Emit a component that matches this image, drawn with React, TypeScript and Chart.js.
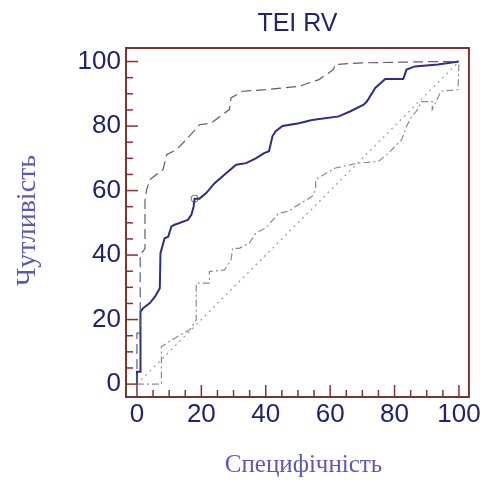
import React, { useEffect, useRef } from "react";
import { Chart, registerables } from "chart.js";

Chart.register(...registerables);

// Axis tick labels (both axes share the same scale 0..100)
const tickValues = [0, 20, 40, 60, 80, 100];
const minorStep = 5;

// Texts
const chartTitle = "TEI RV";
const xTitle = "Специфічність";
const yTitle = "Чутливість";

// ROC curve: 100 - specificity (x) vs sensitivity (y), in %
const rocSpec = [0, 0, 1.1, 1.1, 1.9, 4.0, 5.6, 7.1, 7.3, 8.6, 9.7, 10.7, 11.7, 15.8, 16.9, 17.6, 17.9, 19.4, 21.5, 24.1, 27.7, 30.8, 33.9, 36.9, 39.5, 41.0, 42.1, 43.1, 45.2, 50.3, 54.4, 62.7, 66.3, 70.4, 71.4, 74.0, 77.1, 82.7, 83.7, 86.3, 93.5, 100];
const rocSens = [0, 3.8, 3.8, 22.5, 23.5, 25.1, 27.1, 29.7, 40.6, 45.2, 45.7, 48.9, 49.4, 50.9, 52.5, 55.0, 57.5, 57.5, 59.2, 62.3, 65.4, 68.0, 68.5, 70.0, 71.6, 72.2, 76.9, 78.4, 80.0, 80.9, 81.9, 83.0, 84.6, 86.6, 87.6, 91.8, 94.6, 94.6, 97.5, 98.5, 99.1, 100];

// Upper 95% confidence bound
const upperSpec = [0, 0, 1.0, 1.0, 2.5, 2.5, 3.0, 4.0, 8.1, 9.2, 12.3, 15.3, 19.4, 23.0, 28.7, 29.2, 32.8, 40.0, 50.3, 56.5, 61.0, 61.6, 69.8, 93.5, 100];
const upperSens = [0, 15.8, 15.8, 40.0, 42.0, 57.0, 60.2, 63.4, 66.5, 71.1, 72.7, 75.8, 80.4, 80.9, 85.1, 88.7, 90.8, 91.3, 92.3, 94.4, 97.5, 99.1, 99.6, 100, 100];

// Lower 95% confidence bound
const lowerSpec = [0, 7.6, 7.6, 9.2, 13.3, 16.4, 18.4, 18.4, 22.5, 22.5, 27.2, 29.2, 29.7, 31.8, 34.9, 36.9, 40.0, 44.1, 47.2, 49.3, 54.4, 55.5, 55.5, 61.6, 68.8, 75.0, 78.1, 82.2, 83.7, 85.3, 86.8, 88.4, 91.7, 91.7, 94.4, 99.7, 100];
const lowerSens = [0, 0, 11.6, 12.6, 15.2, 16.8, 19.9, 31.3, 31.3, 34.9, 35.4, 38.5, 42.1, 42.1, 43.7, 46.8, 48.4, 53.0, 53.6, 55.1, 58.2, 60.2, 63.4, 67.0, 68.5, 69.0, 71.6, 75.8, 79.9, 83.0, 84.6, 87.6, 87.6, 85.1, 90.8, 91.3, 100];

// Reference line of a non-informative test
const diagSpec = [0, 100];
const diagSens = [0, 100];

// Optimal cut-off criterion on the curve
const cutSpec = [17.9];
const cutSens = [57.5];

const sansFamily = '"Liberation Sans", Arial, sans-serif';
const serifFamily = '"Liberation Serif", "Times New Roman", serif';
const labelColor = "#1f2470";
const axisTitleColor = "#5a5ab4";
const frameColor = "#7a3535";
const tickColor = "#8b3030";

const toPoints = (xs: number[], ys: number[]) => xs.map((x, i) => ({ x, y: ys[i] }));

// Plot frame with inward-pointing major/minor ticks
const frameAndTicks = {
  id: "frameAndTicks",
  afterDatasetsDraw(chart: any) {
    const { ctx, chartArea: a, scales } = chart;
    const xs = scales.x;
    const ys = scales.y;
    ctx.save();
    ctx.strokeStyle = tickColor;
    ctx.lineWidth = 1.5;
    for (let v = tickValues[0]; v <= tickValues[tickValues.length - 1]; v += minorStep) {
      const major = tickValues.includes(v);
      const len = major ? 12 : 7;
      const px = xs.getPixelForValue(v);
      ctx.beginPath();
      ctx.moveTo(px, a.bottom);
      ctx.lineTo(px, a.bottom - len);
      ctx.stroke();
      const py = ys.getPixelForValue(v);
      ctx.beginPath();
      ctx.moveTo(a.left, py);
      ctx.lineTo(a.left + len, py);
      ctx.stroke();
    }
    ctx.lineWidth = 2;
    ctx.strokeStyle = frameColor;
    ctx.strokeRect(a.left, a.top, a.right - a.left, a.bottom - a.top);
    ctx.restore();
  },
};

// Chart title and axis titles
const titles = {
  id: "titles",
  afterDraw(chart: any) {
    const { ctx, chartArea: a } = chart;
    const cx = (a.left + a.right) / 2;
    ctx.save();
    ctx.textAlign = "center";
    ctx.textBaseline = "middle";

    ctx.fillStyle = labelColor;
    ctx.font = `25px ${sansFamily}`;
    ctx.fillText(chartTitle, cx, 24);

    ctx.fillStyle = axisTitleColor;
    ctx.font = `25px ${serifFamily}`;
    ctx.fillText(xTitle, cx + 6, 465);

    ctx.font = `28px ${serifFamily}`;
    ctx.translate(28, (a.top + a.bottom) / 2 - 2);
    ctx.rotate(-Math.PI / 2);
    ctx.fillText(yTitle, 0, 0);
    ctx.restore();
  },
};

export default function App() {
  const canvasRef = useRef<HTMLCanvasElement | null>(null);

  useEffect(() => {
    if (!canvasRef.current) return;
    const fixedTicks = (s: any) => {
      s.ticks = tickValues.map((v) => ({ value: v }));
    };
    const chart = new Chart(canvasRef.current, {
      type: "scatter",
      data: {
        datasets: [
          {
            label: "diagonal",
            data: toPoints(diagSpec, diagSens),
            showLine: true,
            borderColor: "#9a9aae",
            borderWidth: 1.2,
            borderDash: [2, 4],
            pointRadius: 0,
          },
          {
            label: "lower",
            data: toPoints(lowerSpec, lowerSens),
            showLine: true,
            borderColor: "#8a8aa2",
            borderWidth: 1.2,
            borderDash: [7, 3, 2, 3],
            pointRadius: 0,
          },
          {
            label: "upper",
            data: toPoints(upperSpec, upperSens),
            showLine: true,
            borderColor: "#5c5c80",
            borderWidth: 1.2,
            borderDash: [10, 5],
            pointRadius: 0,
          },
          {
            label: "ROC",
            data: toPoints(rocSpec, rocSens),
            showLine: true,
            borderColor: "#2b2f85",
            borderWidth: 2,
            pointRadius: 0,
          },
          {
            label: "cut-off",
            data: toPoints(cutSpec, cutSens),
            showLine: false,
            pointRadius: 3.5,
            pointBackgroundColor: "#ffffff",
            pointBorderColor: "#6a6a80",
            pointBorderWidth: 1,
          },
        ],
      },
      options: {
        animation: false,
        responsive: true,
        maintainAspectRatio: false,
        layout: { padding: { top: 48, right: 12, bottom: 0, left: 0 } },
        plugins: {
          legend: { display: false },
          tooltip: { enabled: false },
          title: { display: false },
        },
        scales: {
          x: {
            type: "linear",
            min: -3.4,
            max: 103.1,
            afterBuildTicks: fixedTicks,
            afterFit: (s: any) => {
              s.height = 92;
            },
            grid: { display: false, drawTicks: false },
            border: { display: false },
            ticks: {
              color: labelColor,
              font: { family: sansFamily, size: 26 },
              padding: 2,
              maxRotation: 0,
              autoSkip: false,
            },
          },
          y: {
            type: "linear",
            min: -4.0,
            max: 104.2,
            afterBuildTicks: fixedTicks,
            afterFit: (s: any) => {
              s.width = 126;
            },
            grid: { display: false, drawTicks: false },
            border: { display: false },
            ticks: {
              color: labelColor,
              font: { family: sansFamily, size: 26 },
              padding: 5,
              autoSkip: false,
            },
          },
        },
      },
      plugins: [frameAndTicks, titles],
    } as any);
    return () => chart.destroy();
  }, []);

  return (
    <div style={{ position: "absolute", left: 0, top: 0, width: 483, height: 489, background: "#ffffff" }}>
      <canvas ref={canvasRef} />
    </div>
  );
}
